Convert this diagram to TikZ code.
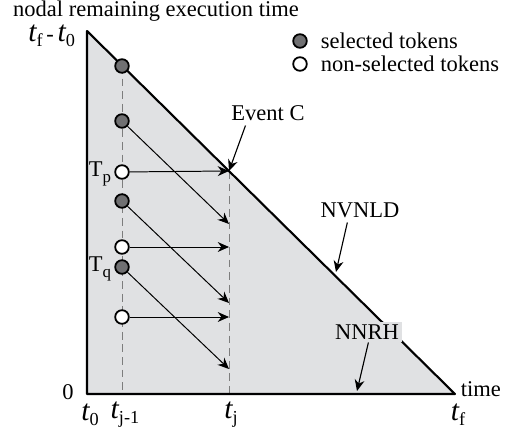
\documentclass[tikz,border=0pt]{standalone}
\usepackage{fontspec}
\setmainfont{Liberation Serif}
\usetikzlibrary{arrows.meta}

\definecolor{areagray}{RGB}{224,225,227}
\definecolor{tokgray}{RGB}{112,112,114}
\definecolor{dashgray}{RGB}{125,125,125}

% italic t with a lowered upright index
\newcommand{\tlab}[1]{{\fontsize{21}{22}\selectfont\itshape t}\raisebox{-0.5ex}{\fontsize{13}{14}\selectfont #1}}
\newcommand{\Tlab}[1]{T\raisebox{-0.55ex}{\fontsize{12}{13}\selectfont #1}}

\begin{document}
\begin{tikzpicture}[x=0.025cm,y=-0.025cm,
  font=\fontsize{16}{18}\selectfont,
  seltok/.style={circle,draw,line width=1.3pt,fill=tokgray,minimum size=0.34cm,inner sep=0pt},
  opentok/.style={circle,draw,line width=1.3pt,fill=white,minimum size=0.34cm,inner sep=0pt},
  arr/.style={line width=0.7pt,-{Stealth[length=8pt,width=7pt]}},
  lblarr/.style={line width=0.8pt,-{Stealth[length=8pt,width=7pt]}},
  dashline/.style={dashgray,line width=0.7pt,dash pattern=on 5.5pt off 3.5pt}]

\useasboundingbox (0,0) rectangle (506,431);

% area under the deadline line
\coordinate (top) at (87,31);
\coordinate (orig) at (87,394);
\coordinate (tf) at (455,394);
\fill[areagray] (top) -- (orig) -- (tf) -- cycle;

% time marks t_{j-1} and t_j
\coordinate (evpt) at (229,171);
\draw[dashline] (122,66) -- (122,394);
\draw[dashline] (evpt) -- (229,394);

\draw[line width=1.5pt,line join=round] (top) -- (orig) -- (tf) -- cycle;

% tokens at t_{j-1}
\foreach \y/\n in {66/sa,121/sb,201/sc,267/sd}{
    \node[seltok] (\n) at (122,\y) {};
}
\foreach \y/\n in {172/oa,247/ob,317/oc}{
    \node[opentok] (\n) at (122,\y) {};
}

% where they end up at t_j
\coordinate (eb) at (229,224);
\coordinate (ec) at (229,303);
\coordinate (ed) at (229,369);
\coordinate (eob) at (229,247);
\coordinate (eoc) at (229,317);

\draw[arr] (sb) -- (eb);
\draw[arr] (sc) -- (ec);
\draw[arr] (sd) -- (ed);
\draw[arr] (oa) -- (evpt);
\draw[arr] (ob) -- (eob);
\draw[arr] (oc) -- (eoc);

\node[anchor=east] (tp) at (116,174) {\Tlab{p}};
\node[anchor=east] (tq) at (116,269) {\Tlab{q}};

% labels with pointers
\node (evc) at (268,113) {Event C};
\draw[lblarr] ([xshift=-16pt]evc.south) -- (evpt);

\node (nvnld) at (360,210) {NVNLD};
\coordinate (nvpt) at (336,272);
\draw[lblarr] ([xshift=-9pt]nvnld.south) -- (nvpt);

\node[fill=areagray,inner sep=2pt] (nnrh) at (367,332) {NNRH};
\coordinate (nnpt) at (357,391);
\draw[lblarr] ([xshift=1pt]nnrh.south) -- (nnpt);

% legend
\node[seltok] (lsel) at (300,41) {};
\node[opentok] (lopen) at (300,64) {};
\node[anchor=west] (lseltxt) at (316,41) {selected tokens};
\node[anchor=west] (lopentxt) at (316,64) {non-selected tokens};

% axes text
\node (ylab) at (156,11) {nodal remaining execution time};
\node[anchor=east] (ymax) at (80,36) {\tlab{f}\,-\,\tlab{0}};
\node (yzero) at (68,392) {0};
\node[anchor=west] (xlab) at (456,389) {time};
\node (xt0) at (90,415) {\tlab{0}};
\node (xtj1) at (125,415) {\tlab{j-1}};
\node (xtj) at (231,415) {\tlab{j}};
\node (xtf) at (458,415) {\tlab{f}};

\end{tikzpicture}
\end{document}
